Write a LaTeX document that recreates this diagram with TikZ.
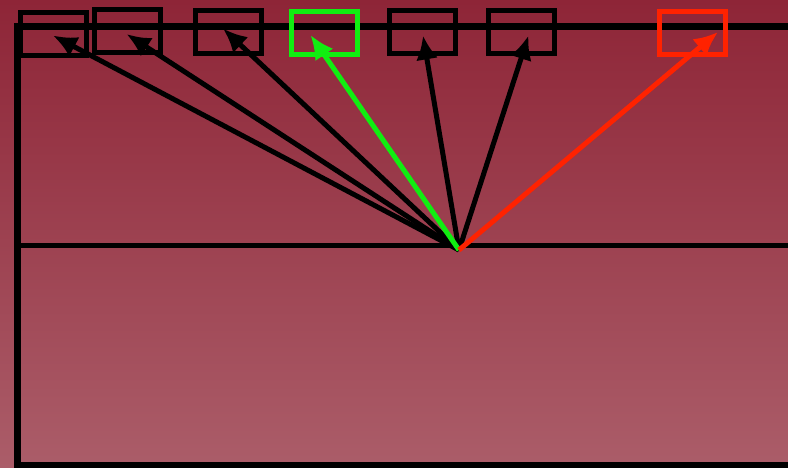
\documentclass[tikz,border=0pt]{standalone}
\usepackage{xcolor}
\usetikzlibrary{calc, arrows.meta, positioning}

\definecolor{bgtop}{HTML}{8E2537}
\definecolor{bgbot}{HTML}{AB5D69}
\definecolor{slotgreen}{HTML}{11EE11}
\definecolor{slotred}{HTML}{FF2200}

\tikzset{
    slot/.style={draw=black, line width=5pt, minimum width=66pt, minimum height=43pt, inner sep=0pt},
    frame/.style={line width=7pt},
    ray/.style={->, line width=5pt}
}

\begin{document}
\begin{tikzpicture}[x=1pt, y=-1pt, >={Latex[length=24pt, width=22pt]}]
    % 1. Nền chuyển màu
    \shade[top color=bgtop, bottom color=bgbot] (0,0) rectangle (788,468);
    \useasboundingbox (0,0) rectangle (788,468);

    % 2. Khung
    \draw[frame] (17.5,23.5) -- (17.5,468);
    \draw[frame] (14,27) -- (788,27);
    \draw[line width=5pt] (17.5,245.5) -- (788,245.5);
    \draw[line width=6pt] (14,464.5) -- (788,464.5);

    % 3. Các ô phía trên
    \node[slot] (s1) at (53,34.5) {};
    \node[slot] (s2) at (127.5,31) {};
    \node[slot] (s3) at (228,32.5) {};
    \node[slot, draw=slotgreen] (sg) at (324.5,33) {};
    \node[slot] (s5) at (422.5,32.5) {};
    \node[slot] (s6) at (521.5,32.5) {};
    \node[slot, draw=slotred] (sr) at (692,33) {};

    % 4. Các mũi tên từ gốc
    \coordinate (o) at (459,250);
    \draw[ray] (o) -- ($(s1.center)+(0,1)$);
    \draw[ray] (o) -- ($(s2.center)+(-1,3)$);
    \draw[ray] (o) -- ($(s3.center)+(-5,-4)$);
    \draw[ray] (o) -- ($(s5.center)+(0.5,3)$);
    \draw[ray] (o) -- ($(s6.center)+(7,3)$);
    \draw[ray, slotgreen] (o) -- ($(sg.center)+(-14,2)$);
    \draw[ray, slotred] (o) -- ($(sr.center)+(26,-1)$);
\end{tikzpicture}
\end{document}
